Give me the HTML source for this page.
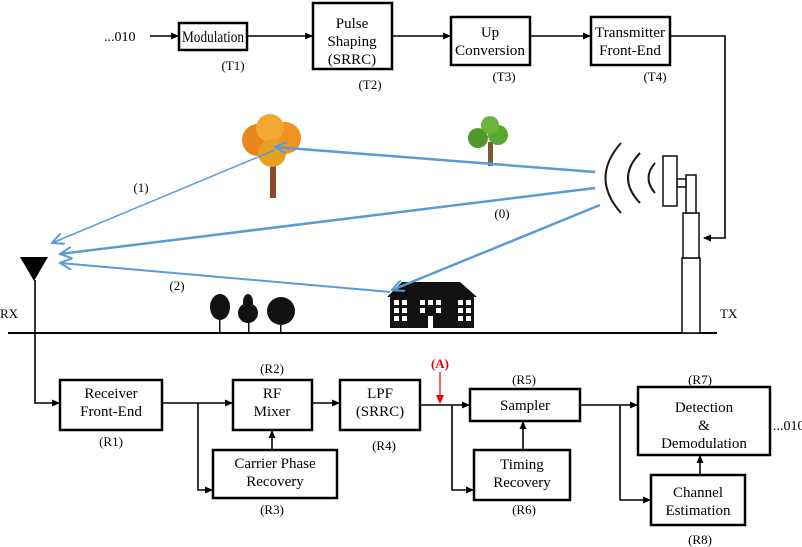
<!DOCTYPE html>
<html><head><meta charset="utf-8"><style>
html,body{margin:0;padding:0;background:#fff}
svg{display:block}
text{font-family:"Liberation Serif",serif;fill:#000}
</style></head><body>
<svg width="802" height="547" viewBox="0 0 802 547" xmlns="http://www.w3.org/2000/svg">
<defs>
<marker id="a" markerWidth="8" markerHeight="8" refX="7" refY="4" orient="auto" markerUnits="userSpaceOnUse"><path d="M0,0.5 L8,4 L0,7.5 Z" fill="#000"/></marker>
<marker id="b" markerWidth="14" markerHeight="12" refX="12" refY="6" orient="auto" markerUnits="userSpaceOnUse"><path d="M0,0 L12,6 L0,12" fill="none" stroke="#5b9bd5" stroke-width="2"/></marker>
</defs>
<g fill="none" stroke="#000" stroke-width="2.5">
<rect x="179" y="23" width="68" height="27"/>
<rect x="313" y="3" width="79" height="66"/>
<rect x="451" y="17" width="79" height="48"/>
<rect x="591" y="17" width="79" height="48"/>
<rect x="60" y="380" width="102" height="50"/>
<rect x="233" y="380" width="79" height="50"/>
<rect x="213" y="450" width="124" height="48"/>
<rect x="340" y="380" width="80" height="50"/>
<rect x="470" y="389" width="110" height="32"/>
<rect x="474" y="450" width="96" height="50"/>
<rect x="638" y="387" width="132" height="68"/>
<rect x="651" y="475" width="94" height="50"/>
</g>
<g fill="none" stroke="#000" stroke-width="1.6" marker-end="url(#a)">
<line x1="150" y1="36" x2="178" y2="36"/>
<line x1="247" y1="36" x2="312" y2="36"/>
<line x1="392" y1="36" x2="450" y2="36"/>
<line x1="530" y1="36" x2="590" y2="36"/>
<polyline points="670,36 725,36 725,238 704,238"/>
<polyline points="35,280 35,403 59,403"/>
<line x1="162" y1="403" x2="232" y2="403"/>
<polyline points="198,403 198,490 212,490"/>
<line x1="272" y1="450" x2="272" y2="431"/>
<line x1="312" y1="403" x2="339" y2="403"/>
<line x1="420" y1="405" x2="469" y2="405"/>
<polyline points="452,405 452,490 473,490"/>
<line x1="523" y1="450" x2="523" y2="422"/>
<line x1="580" y1="405" x2="637" y2="405"/>
<polyline points="620,405 620,500 650,500"/>
<line x1="700" y1="475" x2="700" y2="456"/>
</g>
<line x1="440" y1="372" x2="440" y2="396" stroke="#e00" stroke-width="1.2"/>
<path d="M436,395 L444,395 L440,404 Z" fill="#e00"/>
<line x1="8" y1="333" x2="717" y2="333" stroke="#000" stroke-width="2"/>
<path d="M20,257 L48,257 L34,281 Z" fill="#000"/>
<g fill="#fff" stroke="#1a1a1a" stroke-width="1.6">
<rect x="682" y="258" width="18" height="75"/>
<rect x="683" y="213" width="16" height="45"/>
<rect x="686" y="175" width="10" height="38"/>
<rect x="677" y="179" width="9" height="8"/>
<rect x="663" y="156" width="14" height="50"/>
</g>
<g fill="none" stroke="#1a1a1a" stroke-width="2">
<path d="M621,143 Q590,178 621,213"/>
<path d="M640,153 Q616,178 640,203"/>
<path d="M655,163 Q642,178 655,193"/>
</g>
<rect x="270" y="160" width="6" height="38" fill="#8a4b2a"/>
<circle cx="258" cy="140" r="16" fill="#e9861d"/>
<circle cx="285" cy="138" r="16" fill="#f0921f"/>
<circle cx="270" cy="128" r="14" fill="#f5a733"/>
<circle cx="272" cy="153" r="14" fill="#e8a020"/>
<rect x="488" y="142" width="5" height="24" fill="#7a5a35"/>
<circle cx="478" cy="138" r="10" fill="#4d9a2a"/>
<circle cx="498" cy="135" r="10" fill="#5aa832"/>
<circle cx="490" cy="125" r="9" fill="#6cb53c"/>
<g fill="#111">
<rect x="219" y="310" width="1.5" height="22"/><ellipse cx="220" cy="307" rx="10" ry="13"/>
<rect x="248" y="310" width="1.5" height="22"/><ellipse cx="248" cy="313" rx="10" ry="10"/><ellipse cx="248" cy="302" rx="5" ry="8"/>
<rect x="280" y="315" width="1.5" height="17"/><circle cx="281" cy="311" r="14"/>
<path d="M387,297 L402,282 L460,282 L477,297 Z"/>
<rect x="390" y="297" width="84" height="31"/>
</g>
<g fill="#fff">
<rect x="394" y="300" width="5" height="5"/><rect x="402" y="300" width="5" height="5"/><rect x="394" y="308" width="5" height="5"/><rect x="402" y="308" width="5" height="5"/><rect x="394" y="316" width="5" height="5"/><rect x="402" y="316" width="5" height="5"/>
<rect x="420" y="300" width="5" height="5"/><rect x="428" y="300" width="5" height="5"/><rect x="436" y="300" width="5" height="5"/><rect x="420" y="308" width="5" height="5"/><rect x="436" y="308" width="5" height="5"/><rect x="428" y="316" width="5" height="12"/>
<rect x="458" y="300" width="5" height="5"/><rect x="466" y="300" width="5" height="5"/><rect x="458" y="308" width="5" height="5"/><rect x="466" y="308" width="5" height="5"/><rect x="458" y="316" width="5" height="5"/><rect x="466" y="316" width="5" height="5"/>
</g>
<g stroke="#5b9bd5" fill="none" marker-end="url(#b)">
<line x1="595" y1="172" x2="275" y2="147" stroke-width="2.5"/>
<line x1="595" y1="188" x2="60" y2="254" stroke-width="2.5"/>
<line x1="600" y1="205" x2="392" y2="290" stroke-width="2.5"/>
<line x1="275" y1="150" x2="52" y2="243" stroke-width="1.5"/>
<line x1="390" y1="292" x2="60" y2="263" stroke-width="2"/>
</g>
<g font-size="15">
<text x="104" y="41" font-size="14">...010</text>
<text x="213" y="42" text-anchor="middle" font-size="16" textLength="62" lengthAdjust="spacingAndGlyphs">Modulation</text>
<text x="352" y="28" text-anchor="middle">Pulse</text>
<text x="352" y="46" text-anchor="middle">Shaping</text>
<text x="352" y="64" text-anchor="middle">(SRRC)</text>
<text x="490" y="37" text-anchor="middle">Up</text>
<text x="490" y="55" text-anchor="middle" textLength="70" lengthAdjust="spacingAndGlyphs">Conversion</text>
<text x="630" y="37" text-anchor="middle" textLength="70" lengthAdjust="spacingAndGlyphs">Transmitter</text>
<text x="630" y="55" text-anchor="middle">Front-End</text>
<text x="111" y="398" text-anchor="middle">Receiver</text>
<text x="111" y="416" text-anchor="middle">Front-End</text>
<text x="272" y="398" text-anchor="middle">RF</text>
<text x="272" y="416" text-anchor="middle">Mixer</text>
<text x="275" y="468" text-anchor="middle">Carrier Phase</text>
<text x="275" y="486" text-anchor="middle">Recovery</text>
<text x="380" y="398" text-anchor="middle">LPF</text>
<text x="380" y="416" text-anchor="middle">(SRRC)</text>
<text x="525" y="410" text-anchor="middle">Sampler</text>
<text x="522" y="469" text-anchor="middle">Timing</text>
<text x="522" y="487" text-anchor="middle">Recovery</text>
<text x="704" y="412" text-anchor="middle">Detection</text>
<text x="704" y="430" text-anchor="middle">&amp;</text>
<text x="704" y="448" text-anchor="middle">Demodulation</text>
<text x="698" y="497" text-anchor="middle">Channel</text>
<text x="698" y="515" text-anchor="middle">Estimation</text>
<text x="773" y="430" font-size="14">...010</text>
</g>
<g font-size="13">
<text x="233" y="70" text-anchor="middle">(T1)</text>
<text x="370" y="89" text-anchor="middle">(T2)</text>
<text x="504" y="81" text-anchor="middle">(T3)</text>
<text x="655" y="81" text-anchor="middle">(T4)</text>
<text x="141" y="192" text-anchor="middle">(1)</text>
<text x="502" y="218" text-anchor="middle">(0)</text>
<text x="177" y="290" text-anchor="middle">(2)</text>
<text x="0" y="318">RX</text>
<text x="720" y="318">TX</text>
<text x="272" y="373" text-anchor="middle">(R2)</text>
<text x="111" y="446" text-anchor="middle">(R1)</text>
<text x="272" y="514" text-anchor="middle">(R3)</text>
<text x="384" y="450" text-anchor="middle">(R4)</text>
<text x="524" y="384" text-anchor="middle">(R5)</text>
<text x="524" y="514" text-anchor="middle">(R6)</text>
<text x="700" y="384" text-anchor="middle">(R7)</text>
<text x="700" y="544" text-anchor="middle">(R8)</text>
<text x="440" y="368" text-anchor="middle" font-weight="bold" style="fill:#e00">(A)</text>
</g>
</svg>
</body></html>
